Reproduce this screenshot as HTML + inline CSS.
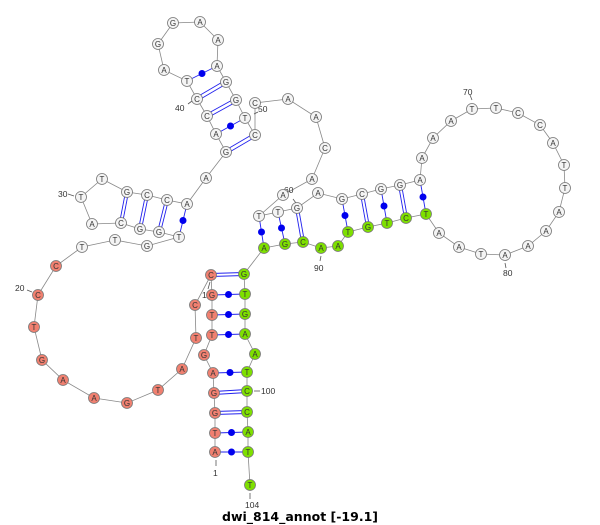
<!DOCTYPE html>
<html><head><meta charset="utf-8"><style>
html,body{margin:0;padding:0;background:#fff;}
svg{display:block;}
.n text{font-family:"Liberation Sans",sans-serif;font-size:8px;text-anchor:middle;fill:#333;}
.lb{font-family:"Liberation Sans",sans-serif;font-size:8.5px;fill:#333;}
</style></head><body>
<svg width="600" height="525" viewBox="0 0 600 525" xmlns="http://www.w3.org/2000/svg">
<polyline fill="none" stroke="#888" stroke-width="0.8" points="215,452 215,433 215,413 214,393 213,373 204,355 212,335 212,315 212,295 211,275 195,305 196,338 182,369 158,390 127,403 94,398 63,380 42,360 34,327 38,295 56,266 82,247 115,240 147,246 179,237 159,232 140,229 121,223 92,224 81,197 102,179 127,192 147,195 167,200 187,204 206,178 226,152 216,134 207,116 197,99 187,81 164,70 158,44 173,23 200,22 218,40 217,66 226,82 236,100 245,118 255,135 255,103 288,99 316,117 325,148 312,179 283,195 259,216 278,212 297,208 318,193 342,199 362,194 381,189 400,185 420,180 422,158 433,138 451,121 472,109 496,108 518,113 540,125 553,143 564,165 565,188 559,212 546,231 528,246 505,255 481,254 459,247 439,233 426,214 406,218 387,223 368,227 348,232 338,246 321,248 303,242 285,244 264,248 244,274 245,294 245,314 245,334 255,354 247,372 247,391 247,412 248,432 248,452 250,485"/>
<g stroke="#2222ee" stroke-width="0.9">
<!-- dot pairs -->
<line x1="215" y1="452" x2="248" y2="452"/><line x1="215" y1="433" x2="248" y2="432"/>
<line x1="213" y1="373" x2="247" y2="372"/><line x1="212" y1="335" x2="245" y2="334"/>
<line x1="212" y1="315" x2="245" y2="314"/><line x1="212" y1="295" x2="245" y2="294"/>
<line x1="179" y1="237" x2="187" y2="204"/><line x1="216" y1="134" x2="245" y2="118"/>
<line x1="187" y1="81" x2="217" y2="66"/>
<line x1="259" y1="216" x2="264" y2="248"/><line x1="278" y1="212" x2="285" y2="244"/>
<line x1="342" y1="199" x2="348" y2="232"/><line x1="381" y1="189" x2="387" y2="223"/>
<line x1="420" y1="180" x2="426" y2="214"/>
<!-- double pairs -->
<line x1="214" y1="411.5" x2="247" y2="410.5"/><line x1="214" y1="414.5" x2="247" y2="413.5"/>
<line x1="214" y1="391.5" x2="247" y2="389.5"/><line x1="214" y1="394.5" x2="247" y2="392.5"/>
<line x1="211" y1="273.5" x2="244" y2="272.5"/><line x1="211" y1="276.5" x2="244" y2="275.5"/>
<line x1="125.5" y1="192" x2="119.5" y2="223"/><line x1="128.5" y1="192" x2="122.5" y2="223"/>
<line x1="145.5" y1="195" x2="138.5" y2="229"/><line x1="148.5" y1="195" x2="141.5" y2="229"/>
<line x1="165.5" y1="200" x2="157.5" y2="232"/><line x1="168.5" y1="200" x2="160.5" y2="232"/>
<line x1="225" y1="150.5" x2="254" y2="133.5"/><line x1="227" y1="153.5" x2="256" y2="136.5"/>
<line x1="206" y1="114.5" x2="235" y2="98.5"/><line x1="208" y1="117.5" x2="237" y2="101.5"/>
<line x1="196" y1="97.5" x2="225" y2="80.5"/><line x1="198" y1="100.5" x2="227" y2="83.5"/>
<line x1="295.5" y1="208" x2="301.5" y2="242"/><line x1="298.5" y1="208" x2="304.5" y2="242"/>
<line x1="360.5" y1="194" x2="366.5" y2="227"/><line x1="363.5" y1="194" x2="369.5" y2="227"/>
<line x1="398.5" y1="185" x2="404.5" y2="218"/><line x1="401.5" y1="185" x2="407.5" y2="218"/>
</g>
<g fill="#0000ee">
<circle cx="231.5" cy="452" r="3.5"/><circle cx="231.5" cy="432.5" r="3.5"/>
<circle cx="230" cy="372.5" r="3.5"/><circle cx="228.5" cy="334.5" r="3.5"/>
<circle cx="228.5" cy="314.5" r="3.5"/><circle cx="228.5" cy="294.5" r="3.5"/>
<circle cx="183" cy="220.5" r="3.5"/><circle cx="230.5" cy="126" r="3.5"/>
<circle cx="202" cy="73.5" r="3.5"/>
<circle cx="261.5" cy="232" r="3.5"/><circle cx="281.5" cy="228" r="3.5"/>
<circle cx="345" cy="215.5" r="3.5"/><circle cx="384" cy="206" r="3.5"/>
<circle cx="423" cy="197" r="3.5"/>
</g>
<g stroke="#555" stroke-width="0.8">
<line x1="216" y1="460" x2="216" y2="466"/><line x1="250" y1="493" x2="250" y2="499"/>
<line x1="254" y1="391" x2="260" y2="391"/><line x1="472" y1="100" x2="470" y2="95"/>
<line x1="505" y1="263" x2="506" y2="268"/><line x1="321" y1="256" x2="320" y2="261"/>
<line x1="293" y1="199" x2="296" y2="203"/><line x1="254" y1="114" x2="258" y2="112"/>
<line x1="188" y1="104" x2="192" y2="101"/><line x1="68" y1="194" x2="74" y2="196"/>
<line x1="27" y1="290" x2="32" y2="292"/><line x1="210" y1="282" x2="208" y2="289"/>
</g>
<g class="lb">
<text x="213" y="476">1</text><text x="245" y="508">104</text>
<text x="261" y="394">100</text><text x="463" y="95">70</text>
<text x="503" y="276">80</text><text x="314" y="271">90</text>
<text x="284" y="193">60</text><text x="258" y="112">50</text>
<text x="175" y="111">40</text><text x="58" y="197">30</text>
<text x="15" y="291">20</text><text x="202" y="298">10</text>
</g>
<g class="n" stroke="#777" stroke-width="0.8">
<g fill="#f08070">
<circle cx="215" cy="452" r="5.5"/><circle cx="215" cy="433" r="5.5"/><circle cx="215" cy="413" r="5.5"/><circle cx="214" cy="393" r="5.5"/><circle cx="213" cy="373" r="5.5"/><circle cx="204" cy="355" r="5.5"/><circle cx="212" cy="335" r="5.5"/><circle cx="212" cy="315" r="5.5"/><circle cx="212" cy="295" r="5.5"/><circle cx="211" cy="275" r="5.5"/><circle cx="195" cy="305" r="5.5"/><circle cx="196" cy="338" r="5.5"/><circle cx="182" cy="369" r="5.5"/><circle cx="158" cy="390" r="5.5"/><circle cx="127" cy="403" r="5.5"/><circle cx="94" cy="398" r="5.5"/><circle cx="63" cy="380" r="5.5"/><circle cx="42" cy="360" r="5.5"/><circle cx="34" cy="327" r="5.5"/><circle cx="38" cy="295" r="5.5"/><circle cx="56" cy="266" r="5.5"/>
</g>
<g fill="#f4f4f4">
<circle cx="82" cy="247" r="5.5"/><circle cx="115" cy="240" r="5.5"/><circle cx="147" cy="246" r="5.5"/><circle cx="179" cy="237" r="5.5"/><circle cx="159" cy="232" r="5.5"/><circle cx="140" cy="229" r="5.5"/><circle cx="121" cy="223" r="5.5"/><circle cx="92" cy="224" r="5.5"/><circle cx="81" cy="197" r="5.5"/><circle cx="102" cy="179" r="5.5"/><circle cx="127" cy="192" r="5.5"/><circle cx="147" cy="195" r="5.5"/><circle cx="167" cy="200" r="5.5"/><circle cx="187" cy="204" r="5.5"/><circle cx="206" cy="178" r="5.5"/><circle cx="226" cy="152" r="5.5"/><circle cx="216" cy="134" r="5.5"/><circle cx="207" cy="116" r="5.5"/><circle cx="197" cy="99" r="5.5"/><circle cx="187" cy="81" r="5.5"/><circle cx="164" cy="70" r="5.5"/><circle cx="158" cy="44" r="5.5"/><circle cx="173" cy="23" r="5.5"/><circle cx="200" cy="22" r="5.5"/><circle cx="218" cy="40" r="5.5"/><circle cx="217" cy="66" r="5.5"/><circle cx="226" cy="82" r="5.5"/><circle cx="236" cy="100" r="5.5"/><circle cx="245" cy="118" r="5.5"/><circle cx="255" cy="135" r="5.5"/><circle cx="255" cy="103" r="5.5"/><circle cx="288" cy="99" r="5.5"/><circle cx="316" cy="117" r="5.5"/><circle cx="325" cy="148" r="5.5"/><circle cx="312" cy="179" r="5.5"/><circle cx="283" cy="195" r="5.5"/><circle cx="259" cy="216" r="5.5"/><circle cx="278" cy="212" r="5.5"/><circle cx="297" cy="208" r="5.5"/><circle cx="318" cy="193" r="5.5"/><circle cx="342" cy="199" r="5.5"/><circle cx="362" cy="194" r="5.5"/><circle cx="381" cy="189" r="5.5"/><circle cx="400" cy="185" r="5.5"/><circle cx="420" cy="180" r="5.5"/><circle cx="422" cy="158" r="5.5"/><circle cx="433" cy="138" r="5.5"/><circle cx="451" cy="121" r="5.5"/><circle cx="472" cy="109" r="5.5"/><circle cx="496" cy="108" r="5.5"/><circle cx="518" cy="113" r="5.5"/><circle cx="540" cy="125" r="5.5"/><circle cx="553" cy="143" r="5.5"/><circle cx="564" cy="165" r="5.5"/><circle cx="565" cy="188" r="5.5"/><circle cx="559" cy="212" r="5.5"/><circle cx="546" cy="231" r="5.5"/><circle cx="528" cy="246" r="5.5"/><circle cx="505" cy="255" r="5.5"/><circle cx="481" cy="254" r="5.5"/><circle cx="459" cy="247" r="5.5"/><circle cx="439" cy="233" r="5.5"/>
</g>
<g fill="#7ee000">
<circle cx="426" cy="214" r="5.5"/><circle cx="406" cy="218" r="5.5"/><circle cx="387" cy="223" r="5.5"/><circle cx="368" cy="227" r="5.5"/><circle cx="348" cy="232" r="5.5"/><circle cx="338" cy="246" r="5.5"/><circle cx="321" cy="248" r="5.5"/><circle cx="303" cy="242" r="5.5"/><circle cx="285" cy="244" r="5.5"/><circle cx="264" cy="248" r="5.5"/><circle cx="244" cy="274" r="5.5"/><circle cx="245" cy="294" r="5.5"/><circle cx="245" cy="314" r="5.5"/><circle cx="245" cy="334" r="5.5"/><circle cx="255" cy="354" r="5.5"/><circle cx="247" cy="372" r="5.5"/><circle cx="247" cy="391" r="5.5"/><circle cx="247" cy="412" r="5.5"/><circle cx="248" cy="432" r="5.5"/><circle cx="248" cy="452" r="5.5"/><circle cx="250" cy="485" r="5.5"/>
</g>
</g>
<g class="n">
<text x="215" y="455">A</text><text x="215" y="436">T</text><text x="215" y="416">G</text><text x="214" y="396">G</text><text x="213" y="376">A</text><text x="204" y="358">G</text><text x="212" y="338">T</text><text x="212" y="318">T</text><text x="212" y="298">G</text><text x="211" y="278">C</text><text x="195" y="308">C</text><text x="196" y="341">T</text><text x="182" y="372">A</text><text x="158" y="393">T</text><text x="127" y="406">G</text><text x="94" y="401">A</text><text x="63" y="383">A</text><text x="42" y="363">G</text><text x="34" y="330">T</text><text x="38" y="298">C</text><text x="56" y="269">C</text>
<text x="82" y="250">T</text><text x="115" y="243">T</text><text x="147" y="249">G</text><text x="179" y="240">T</text><text x="159" y="235">G</text><text x="140" y="232">G</text><text x="121" y="226">C</text><text x="92" y="227">A</text><text x="81" y="200">T</text><text x="102" y="182">T</text><text x="127" y="195">G</text><text x="147" y="198">C</text><text x="167" y="203">C</text><text x="187" y="207">A</text><text x="206" y="181">A</text><text x="226" y="155">G</text><text x="216" y="137">A</text><text x="207" y="119">C</text><text x="197" y="102">C</text><text x="187" y="84">T</text><text x="164" y="73">A</text><text x="158" y="47">G</text><text x="173" y="26">G</text><text x="200" y="25">A</text><text x="218" y="43">A</text><text x="217" y="69">A</text><text x="226" y="85">G</text><text x="236" y="103">G</text><text x="245" y="121">T</text><text x="255" y="138">C</text><text x="255" y="106">C</text><text x="288" y="102">A</text><text x="316" y="120">A</text><text x="325" y="151">C</text><text x="312" y="182">A</text><text x="283" y="198">A</text><text x="259" y="219">T</text><text x="278" y="215">T</text><text x="297" y="211">G</text><text x="318" y="196">A</text><text x="342" y="202">G</text><text x="362" y="197">C</text><text x="381" y="192">G</text><text x="400" y="188">G</text><text x="420" y="183">A</text><text x="422" y="161">A</text><text x="433" y="141">A</text><text x="451" y="124">A</text><text x="472" y="112">T</text><text x="496" y="111">T</text><text x="518" y="116">C</text><text x="540" y="128">C</text><text x="553" y="146">A</text><text x="564" y="168">T</text><text x="565" y="191">T</text><text x="559" y="215">A</text><text x="546" y="234">A</text><text x="528" y="249">A</text><text x="505" y="258">A</text><text x="481" y="257">T</text><text x="459" y="250">A</text><text x="439" y="236">A</text>
<text x="426" y="217">T</text><text x="406" y="221">C</text><text x="387" y="226">T</text><text x="368" y="230">G</text><text x="348" y="235">T</text><text x="338" y="249">A</text><text x="321" y="251">A</text><text x="303" y="245">C</text><text x="285" y="247">G</text><text x="264" y="251">A</text><text x="244" y="277">G</text><text x="245" y="297">T</text><text x="245" y="317">G</text><text x="245" y="337">A</text><text x="255" y="357">A</text><text x="247" y="375">T</text><text x="247" y="394">C</text><text x="247" y="415">C</text><text x="248" y="435">A</text><text x="248" y="455">T</text><text x="250" y="488">T</text>
</g>
<text x="300" y="521" text-anchor="middle" font-family="'DejaVu Sans','Liberation Sans',sans-serif" font-weight="bold" font-size="12.5" fill="#000">dwi_814_annot [-19.1]</text>
</svg>
</body></html>
